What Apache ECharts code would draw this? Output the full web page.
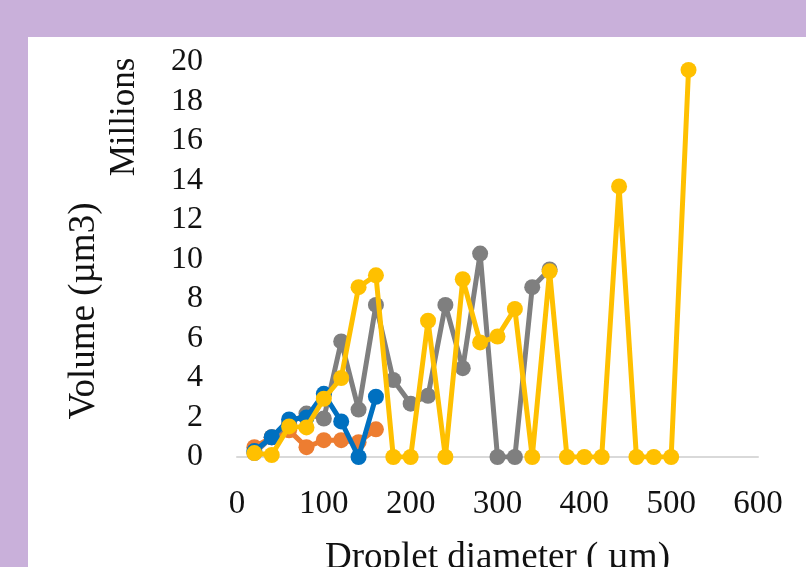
<!DOCTYPE html>
<html lang="en">
<head>
  <meta charset="UTF-8">
  <title>Droplet volume</title>
  <script src="https://cdn.jsdelivr.net/npm/echarts@6/dist/echarts.min.js"></script>
  <style type="text/css">
    html, body { margin: 0; padding: 0; background: #c9b0da; }
    #main { width: 806px; height: 567px; }
  </style>
</head>
<body>
  <div id="main"></div>

  <script type="text/javascript">
    // diameter bins (um) and volumes (millions um3)
    var blueX   = [20, 40, 60, 80, 100, 120, 140, 160];
    var blueY   = [0.3, 1.0, 1.9, 2.0, 3.2, 1.8, 0, 3.05];
    var orangeX = [20, 40, 60, 80, 100, 120, 140, 160];
    var orangeY = [0.5, 1.0, 1.35, 0.5, 0.85, 0.85, 0.75, 1.4];
    var grayX   = [20, 40, 60, 80, 100, 120, 140, 160, 180, 200, 220, 240, 260, 280, 300, 320, 340, 360];
    var grayY   = [0.2, 1.0, 1.7, 2.2, 1.95, 5.85, 2.4, 7.7, 3.9, 2.7, 3.1, 7.7, 4.5, 10.3, 0, 0, 8.6, 9.5];
    var yellowX = [20, 40, 60, 80, 100, 120, 140, 160, 180, 200, 220, 240, 260, 280, 300, 320, 340, 360,
                   380, 400, 420, 440, 460, 480, 500, 520];
    var yellowY = [0.2, 0.1, 1.55, 1.5, 2.95, 4.0, 8.6, 9.2, 0, 0, 6.9, 0, 9.0, 5.8, 6.1, 7.5, 0, 9.4,
                   0, 0, 0, 13.7, 0, 0, 0, 19.6];

    var xTicks = { min: 0, max: 600, step: 100 };
    var yTicks = { min: 0, max: 20, step: 2 };

    function pairs(xs, ys) {
      var out = [];
      for (var i = 0; i < xs.length; i++) {
        out.push([xs[i], ys[i]]);
      }
      return out;
    }

    function line(name, xs, ys, color, z) {
      return {
        name: name,
        type: 'line',
        data: pairs(xs, ys),
        z: z,
        symbol: 'circle',
        symbolSize: 16,
        showAllSymbol: true,
        lineStyle: { color: color, width: 5 },
        itemStyle: { color: color },
        emphasis: { disabled: true }
      };
    }

    var serif = '"Liberation Serif", "Times New Roman", serif';
    var myChart = echarts.init(document.getElementById('main'));

    var option = {
      backgroundColor: '#c9b0da',
      animation: false,
      grid: { left: 237, right: 48, top: 62, bottom: 110, outerBoundsMode: 'none', containLabel: false },
      graphic: [
        {
          type: 'rect', z: -10, silent: true,
          shape: { x: 28, y: 37, width: 800, height: 540 },
          style: { fill: '#ffffff' }
        },
        {
          type: 'text', x: 84, y: 311, rotation: Math.PI / 2,
          style: { text: 'Volume (\u00b5m3)', font: '37px ' + serif, fill: '#111',
                   textAlign: 'center', textVerticalAlign: 'middle' }
        },
        {
          type: 'text', x: 125, y: 117, rotation: Math.PI / 2,
          style: { text: 'Millions', font: '35px ' + serif, fill: '#111',
                   textAlign: 'center', textVerticalAlign: 'middle' }
        }
      ],
      xAxis: {
        type: 'value',
        min: xTicks.min, max: xTicks.max, interval: xTicks.step,
        name: 'Droplet diameter ( \u00b5m)',
        nameLocation: 'middle',
        nameGap: 83,
        nameTextStyle: { fontFamily: serif, fontSize: 37, color: '#111' },
        axisLine: { show: true, lineStyle: { color: '#d9d9d9', width: 2 } },
        axisTick: { show: false },
        splitLine: { show: false },
        axisLabel: { fontFamily: serif, fontSize: 33, color: '#111', margin: 31 }
      },
      yAxis: {
        type: 'value',
        min: yTicks.min, max: yTicks.max, interval: yTicks.step,
        axisLine: { show: false },
        axisTick: { show: false },
        splitLine: { show: false },
        axisLabel: { fontFamily: serif, fontSize: 32, color: '#111', margin: 34 }
      },
      series: [
        line('orange', orangeX, orangeY, '#ed7d31', 2),
        line('gray', grayX, grayY, '#7f7f7f', 3),
        line('blue', blueX, blueY, '#0070c0', 4),
        line('yellow', yellowX, yellowY, '#ffc000', 5)
      ]
    };

    myChart.setOption(option);
  </script>
</body>
</html>
